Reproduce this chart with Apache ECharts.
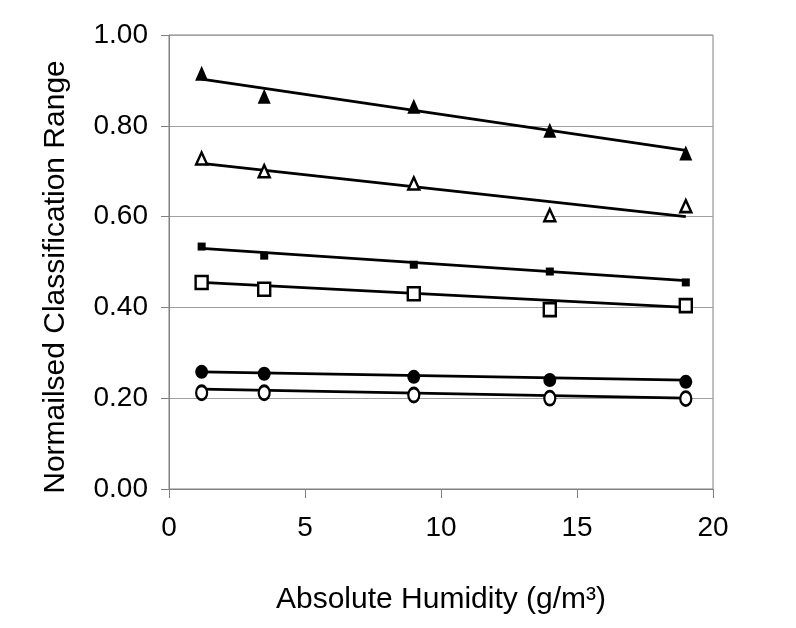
<!DOCTYPE html>
<html>
<head>
<meta charset="utf-8">
<script src="https://cdn.jsdelivr.net/npm/echarts@6/dist/echarts.min.js"></script>
<style>
html,body{margin:0;padding:0;background:#fff;}
#chart{width:796px;height:628px;}
</style>
</head>
<body>
<div id="chart"></div>
<script>
//humidity values (g/m3)
var humidity = [1.2, 3.5, 9, 14, 19];
//measured points for each series
var triFilled = [0.916, 0.865, 0.843, 0.790, 0.740];
var triOpen = [0.728, 0.700, 0.673, 0.603, 0.623];
var sqFilled = [0.534, 0.514, 0.494, 0.479, 0.455];
var sqOpen = [0.455, 0.440, 0.430, 0.395, 0.404];
var cirFilled = [0.258, 0.254, 0.247, 0.240, 0.236];
var cirOpen = [0.212, 0.212, 0.207, 0.200, 0.199];
//trend line ends (start at first x, end at last x)
var trendStart = [0.903, 0.717, 0.530, 0.455, 0.258, 0.220];
var trendEnd = [0.746, 0.600, 0.459, 0.400, 0.240, 0.200];

var chart = echarts.init(document.getElementById('chart'));
var font = 'Liberation Sans, Arial, sans-serif';

//marker style per series
var marks = [
    {d: triFilled, sym: 'triangle', size: [13, 15], fill: '#000'},
    {d: triOpen, sym: 'triangle', size: [11, 12], fill: '#fff'},
    {d: sqFilled, sym: 'rect', size: [8, 8], fill: '#000'},
    {d: sqOpen, sym: 'rect', size: [12, 13], fill: '#fff'},
    {d: cirFilled, sym: 'circle', size: [13, 14], fill: '#000'},
    {d: cirOpen, sym: 'circle', size: [11, 14], fill: '#fff'}
];

function pairs(arr){
    var out = [];
    for(var i = 0; i < arr.length; i++){
        out.push([humidity[i], arr[i]]);
    }
    return out;
}

var series = [];
//trend lines first, markers on top
for(var i = 0; i < marks.length; i++){
    series.push({
        type: 'line',
        data: [[humidity[0], trendStart[i]], [humidity[humidity.length - 1], trendEnd[i]]],
        symbol: 'none',
        silent: true,
        lineStyle: {color: '#000', width: 2.8},
        z: 2
    });
}
for(var i = 0; i < marks.length; i++){
    var m = marks[i];
    series.push({
        type: 'scatter',
        data: pairs(m.d),
        symbol: m.sym,
        symbolSize: m.size,
        itemStyle: {
            color: m.fill,
            borderColor: '#000',
            borderWidth: m.fill == '#fff' ? 2.5 : 0,
            opacity: 1
        },
        z: 3
    });
}

var option = {
    animation: false,
    backgroundColor: '#fff',
    grid: {
        left: 169, right: 83, top: 35, bottom: 139,
        show: true, borderColor: '#808080', borderWidth: 1
    },
    xAxis: {
        type: 'value',
        min: 0, max: 20, interval: 5,
        name: 'Absolute Humidity (g/m\u00b3)',
        nameLocation: 'middle',
        nameGap: 96,
        nameTextStyle: {fontFamily: font, fontSize: 30, color: '#000'},
        axisLine: {show: true, lineStyle: {color: '#808080', width: 1}},
        axisTick: {show: true, inside: false, length: 9, lineStyle: {color: '#808080'}},
        axisLabel: {fontFamily: font, fontSize: 28, color: '#000', margin: 25},
        splitLine: {show: false}
    },
    yAxis: {
        type: 'value',
        min: 0, max: 1, interval: 0.2,
        name: 'Normailsed Classification Range',
        nameLocation: 'middle',
        nameGap: 98,
        nameTextStyle: {fontFamily: font, fontSize: 30, color: '#000', padding: [0, 30, 0, 0]},
        axisLine: {show: true, lineStyle: {color: '#808080', width: 1}},
        axisTick: {show: true, inside: false, length: 8, lineStyle: {color: '#808080'}},
        axisLabel: {
            fontFamily: font, fontSize: 28, color: '#000', margin: 21,
            formatter: function(v){ return v.toFixed(2); }
        },
        splitLine: {show: true, lineStyle: {color: '#a0a0a0', width: 1}}
    },
    series: series
};

chart.setOption(option);
</script>
</body>
</html>
